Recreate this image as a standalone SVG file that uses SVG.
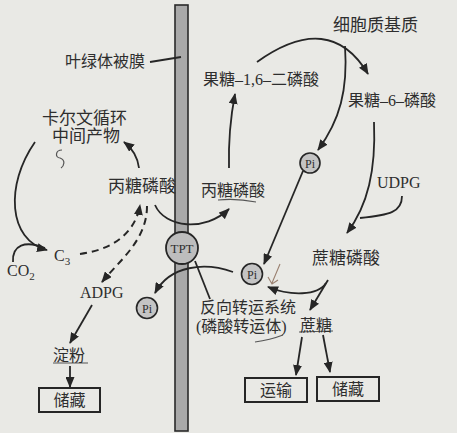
<svg xmlns="http://www.w3.org/2000/svg" width="457" height="433" viewBox="0 0 457 433">
<defs>
<style>
.t{font-family:"Liberation Serif","Noto Sans CJK SC",serif;font-size:16px;fill:#2e2e2e}
.l{fill:none;stroke:#262626;stroke-width:1.8}
.d{fill:none;stroke:#262626;stroke-width:2;stroke-dasharray:7 5}
.box{fill:none;stroke:#262626;stroke-width:2}
.pi{fill:#c4c4c4;stroke:#262626;stroke-width:1.6}
.hw{fill:none;stroke:#555;stroke-width:1.2}
</style>
<marker id="a" markerWidth="11" markerHeight="9" refX="10" refY="4.5" orient="auto" markerUnits="userSpaceOnUse">
<path d="M0,0 L11,4.5 L0,9 z" fill="#262626"/>
</marker>
</defs>
<rect width="457" height="433" fill="#e9e9e5"/>

<g id="membrane">
<rect x="175" y="5" width="13" height="426" fill="#a9a9a9" stroke="#2a2a2a" stroke-width="1.6"/>
</g>

<g id="connectors">
<line class="l" x1="150" y1="62" x2="181" y2="57"/>
<path class="l" d="M35,142 C5,185 8,240 47,250" marker-end="url(#a)"/>
<path class="l" d="M13,262 C12,245 25,240 45,248"/>
<path class="l" d="M139,168 Q137,152 124,142" marker-end="url(#a)"/>
<path class="d" d="M80,254 C110,250 135,235 140,205" marker-end="url(#a)"/>
<path class="d" d="M147,206 C147,240 120,260 102,282" marker-end="url(#a)"/>
<path class="l" d="M92,305 L70,343" marker-end="url(#a)"/>
<path class="l" d="M70,366 L70,387" marker-end="url(#a)"/>
<path class="l" d="M155,205 C165,228 205,232 229,209" marker-end="url(#a)"/>
<path class="l" d="M233,272 C205,262 170,265 155,293" marker-end="url(#a)"/>
<path class="l" d="M195,261 L210,299"/>
<path class="l" d="M229,168 Q228,130 235,94" marker-end="url(#a)"/>
<path class="l" d="M257,62 Q330,10 368,74" marker-end="url(#a)"/>
<path class="l" d="M345,46 C348,90 340,120 318,150" marker-end="url(#a)"/>
<path class="l" d="M303,171 L264,264" marker-end="url(#a)"/>
<path class="l" d="M374,122 C376,170 368,205 347,233" marker-end="url(#a)"/>
<path class="l" d="M402,196 C402,212 390,215 360,218"/>
<path class="l" d="M328,280 L310,310" marker-end="url(#a)"/>
<path class="l" d="M326,283 C318,296 290,296 268,287" marker-end="url(#a)"/>
<path class="l" d="M302,337 L296,375" marker-end="url(#a)"/>
<path class="l" d="M323,335 L330,372" marker-end="url(#a)"/>
</g>

<g id="handwriting">
<path class="hw" d="M62,150 C55,150 55,158 60,158 C66,160 64,166 61,168"/>
<path class="hw" d="M218,200 Q236,198 256,202"/>
<path class="hw" d="M255,342 Q270,340 283,335"/>
<path class="hw" d="M299,332 L333,331"/>
<path class="hw" d="M53,363 L88,363"/>
<path d="M280,264 L272,283 M268,277 L272,284 L278,280" fill="none" stroke="#9a8070" stroke-width="1.1"/>
</g>

<g id="label-envelope"><text class="t" x="65" y="67">叶绿体被膜</text></g>
<g id="calvin"><text class="t" x="42" y="124" style="font-size:17px">卡尔文循环</text><text class="t" x="52" y="142" style="font-size:17px">中间产物</text></g>
<g id="triose-left"><text class="t" x="108" y="192" style="font-size:17px">丙糖磷酸</text></g>
<g id="triose-right"><text class="t" x="201" y="196">丙糖磷酸</text></g>
<g id="fbp"><text class="t" x="203" y="85">果糖–1,6–二磷酸</text></g>
<g id="cytosol"><text class="t" x="333" y="31" style="font-size:17px">细胞质基质</text></g>
<g id="f6p"><text class="t" x="348" y="106">果糖–6–磷酸</text></g>
<g id="udpg"><text class="t" x="377" y="188">UDPG</text></g>
<g id="sucrose-p"><text class="t" x="312" y="264" style="font-size:17px">蔗糖磷酸</text></g>
<g id="antiporter"><text class="t" x="200" y="313">反向转运系统</text><text class="t" x="196" y="332">(磷酸转运体)</text></g>
<g id="sucrose"><text class="t" x="300" y="331">蔗糖</text></g>
<g id="transport"><rect class="box" x="245" y="378" width="62" height="24"/><text class="t" x="276" y="396" text-anchor="middle">运输</text></g>
<g id="storage-right"><rect class="box" x="317" y="377" width="62" height="24"/><text class="t" x="348" y="395" text-anchor="middle">储藏</text></g>
<g id="storage-left"><rect class="box" x="39" y="388" width="61" height="24"/><text class="t" x="69.5" y="406" text-anchor="middle">储藏</text></g>
<g id="starch"><text class="t" x="53" y="361">淀粉</text></g>
<g id="adpg"><text class="t" x="80" y="298">ADPG</text></g>
<g id="c3"><text class="t" x="54" y="261">C<tspan dy="4" style="font-size:11px">3</tspan></text></g>
<g id="co2"><text class="t" x="7" y="276">CO<tspan dy="4" style="font-size:11px">2</tspan></text></g>
<g id="tpt"><circle cx="182" cy="248" r="16" fill="#bdbdbd" stroke="#262626" stroke-width="1.8"/><text class="t" x="182" y="253" text-anchor="middle" style="font-size:13px">TPT</text></g>
<g id="pi-upper"><circle class="pi" cx="310" cy="163" r="10"/><text class="t" x="310" y="167.5" text-anchor="middle" style="font-size:12px">Pi</text></g>
<g id="pi-right"><circle class="pi" cx="252" cy="274" r="10.5"/><text class="t" x="252" y="278.5" text-anchor="middle" style="font-size:12px">Pi</text></g>
<g id="pi-left"><circle class="pi" cx="147" cy="308" r="10.5"/><text class="t" x="147" y="312.5" text-anchor="middle" style="font-size:12px">Pi</text></g>
</svg>
